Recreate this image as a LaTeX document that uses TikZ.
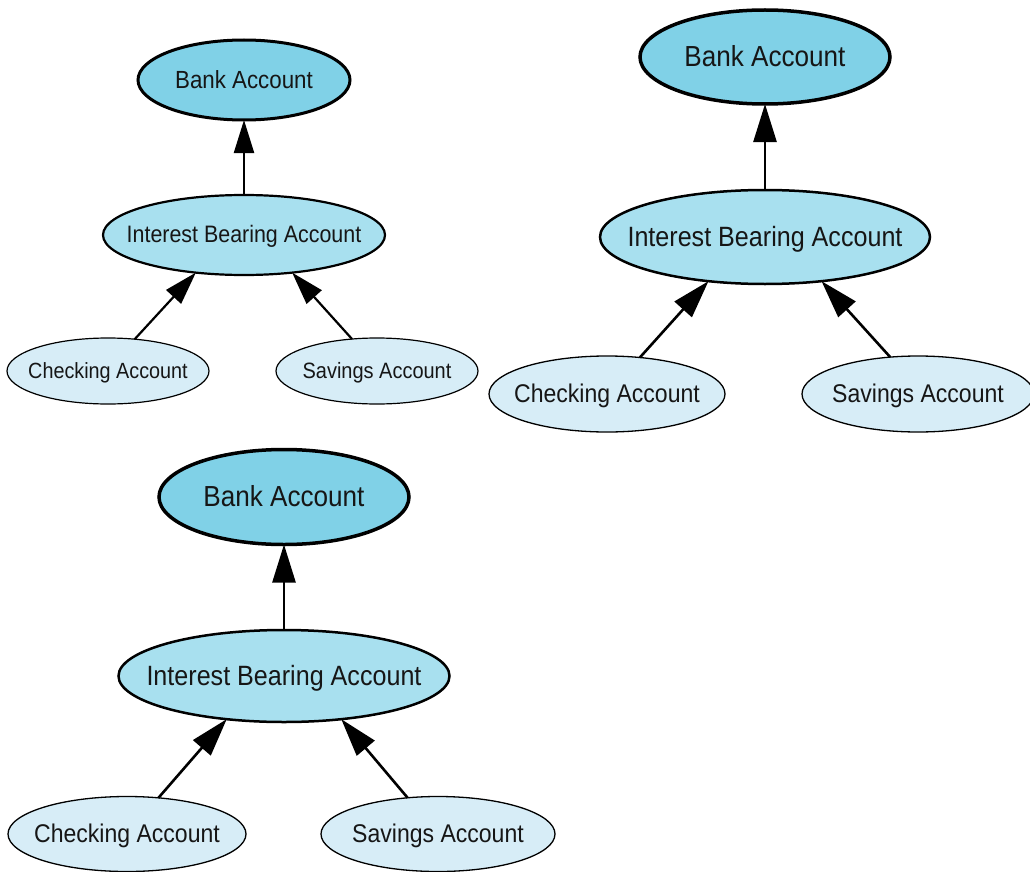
\documentclass[tikz,border=0pt]{standalone}
\usepackage{fontspec}
\newfontfamily\condsans{Liberation Sans}[FakeStretch=0.9]
\usetikzlibrary{shapes.geometric,arrows.meta}

\definecolor{bankfill}{RGB}{128,209,231}
\definecolor{midfill}{RGB}{168,224,239}
\definecolor{leaffill}{RGB}{215,237,247}
\definecolor{inktext}{RGB}{22,22,22}

% centred label that neither widens the ellipse nor shifts it
\newcommand{\ctext}[1]{\makebox[0pt]{\raisebox{-0.33em}[0pt][0pt]{#1}}}

\tikzset{
  acct/.style={ellipse, draw=black, inner sep=0pt, outer sep=0pt,
    text=inktext, text height=0pt, text depth=0pt},
  bank/.style={acct, fill=bankfill},
  middle/.style={acct, fill=midfill},
  leaf/.style={acct, fill=leaffill},
  fs/.style={font=\condsans\fontsize{#1}{#1}\selectfont},
  linkS/.style={line width=2.2pt, -{Triangle[length=33pt,width=20pt]}},
  linkL/.style={line width=2.6pt, -{Triangle[length=38pt,width=23pt]}},
}

\begin{document}
\begin{tikzpicture}[x=1pt,y=-1pt]
\useasboundingbox (0,0) rectangle (1030,872);

% small tree, top left
\node[bank, line width=3pt, minimum width=212pt, minimum height=80pt, fs=24.8pt]
  (b1) at (244,80) {\ctext{Bank Account}};
\node[middle, line width=2.2pt, minimum width=282pt, minimum height=80pt, fs=23.8pt]
  (i1) at (244,235) {\ctext{Interest Bearing Account}};
\node[leaf, line width=1.2pt, minimum width=202pt, minimum height=66pt, fs=22pt]
  (c1) at (108,371) {\ctext{Checking Account}};
\node[leaf, line width=1.2pt, minimum width=202pt, minimum height=66pt, fs=22.2pt]
  (s1) at (377,371) {\ctext{Savings Account}};
\draw[linkS] (i1) -- (b1);
\draw[linkS] (c1.50) -- (i1.218);
\draw[linkS] (s1.128) -- (i1.322);

% large tree, top right
\node[bank, line width=3.5pt, minimum width=250pt, minimum height=94pt, fs=29pt]
  (b2) at (765,57) {\ctext{Bank Account}};
\node[middle, line width=2.5pt, minimum width=330pt, minimum height=94pt, fs=27.9pt]
  (i2) at (765,237) {\ctext{Interest Bearing Account}};
\node[leaf, line width=1.3pt, minimum width=236pt, minimum height=76pt, fs=25.6pt]
  (c2) at (607,394) {\ctext{Checking Account}};
\node[leaf, line width=1.3pt, minimum width=232pt, minimum height=76pt, fs=25.6pt]
  (s2) at (918,394) {\ctext{Savings Account}};
\draw[linkL] (i2) -- (b2);
\draw[linkL] (c2.48) -- (i2.218);
\draw[linkL] (s2.127) -- (i2.322);

% large tree, bottom left
\node[bank, line width=3.5pt, minimum width=250pt, minimum height=95pt, fs=29pt]
  (b3) at (284,497) {\ctext{Bank Account}};
\node[middle, line width=2.5pt, minimum width=331pt, minimum height=92pt, fs=27.9pt]
  (i3) at (284,676) {\ctext{Interest Bearing Account}};
\node[leaf, line width=1.3pt, minimum width=238pt, minimum height=75pt, fs=25.6pt]
  (c3) at (127,834) {\ctext{Checking Account}};
\node[leaf, line width=1.3pt, minimum width=234pt, minimum height=75pt, fs=25.6pt]
  (s3) at (438,834) {\ctext{Savings Account}};
\draw[linkL] (i3) -- (b3);
\draw[linkL] (c3.49) -- (i3.217);
\draw[linkL] (s3.130) -- (i3.323);
\end{tikzpicture}
\end{document}
